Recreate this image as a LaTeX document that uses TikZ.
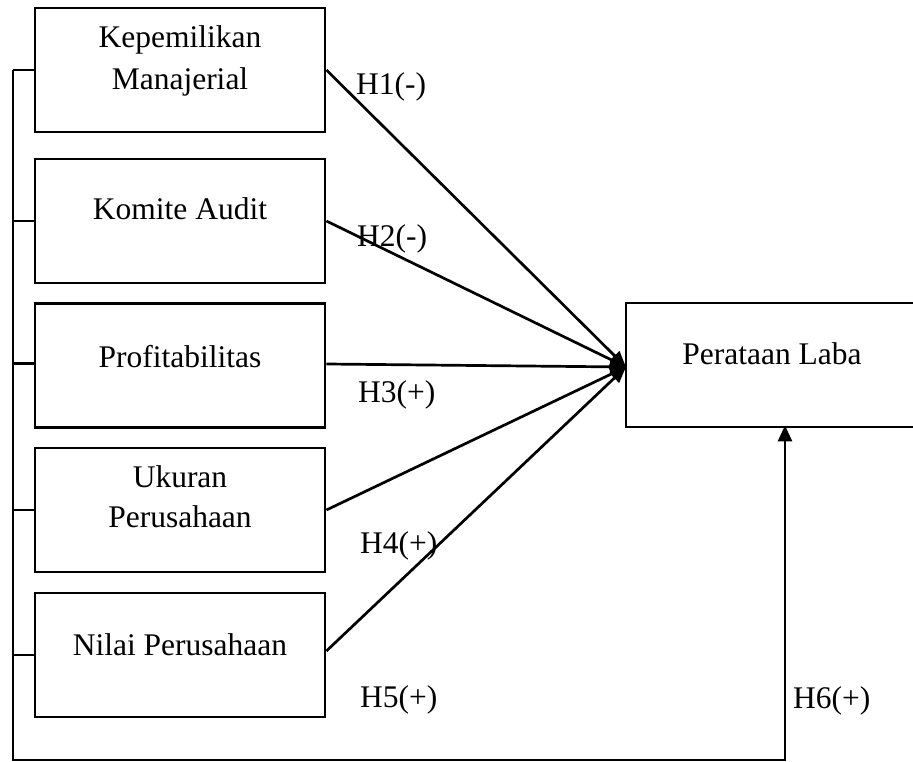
\documentclass[tikz,border=0pt]{standalone}
\usepackage{fontspec}
\setmainfont{Liberation Serif}
\usetikzlibrary{arrows.meta}
\begin{document}
\begin{tikzpicture}[x=1pt,y=-1pt,
  box/.style={draw,line width=2.8pt,minimum width=290pt,minimum height=124pt,inner sep=0pt},
  txt/.style={font=\fontsize{31.5}{42}\selectfont,inner sep=0pt,anchor=base,align=center},
  hlab/.style={font=\fontsize{31.5}{42}\selectfont,inner sep=0pt,anchor=base west},
  conn/.style={line width=2.7pt,-{Triangle[length=16pt,width=13pt]}},
  plain/.style={line width=2.7pt}]
\clip (0,0) rectangle (913,762);
\fill[white] (0,0) rectangle (913,762);
% boxes
\node[box] (b1) at (180,70) {};
\node[box] (b2) at (180,221) {};
\node[box] (b3) at (180,365.5) {};
\node[box] (b4) at (180,510) {};
\node[box] (b5) at (180,655) {};
\node[box,minimum width=296pt] (pl) at (774,365) {};
% texts
\node[txt] (t1a) at (180,48) {Kepemilikan};
\node[txt] (t1b) at (180,90) {Manajerial};
\node[txt] (t2) at (180,220) {Komite Audit};
\node[txt] (t3) at (180,367) {Profitabilitas};
\node[txt] (t4a) at (180,487) {Ukuran};
\node[txt] (t4b) at (180,527) {Perusahaan};
\node[txt] (t5) at (180,655) {Nilai Perusahaan};
\node[txt] (tp) at (772,364) {Perataan Laba};
% convergence point
\coordinate (tip) at (626,367);
\draw[conn] (b1.east) -- (tip);
\draw[conn] (b2.east) -- (tip);
\draw[conn] ([yshift=1.5pt]b3.east) -- (tip);
\draw[conn] (b4.east) -- (tip);
\draw[conn] ([yshift=4pt]b5.east) -- (tip);
% labels
\node[hlab] (h1) at (356,95) {H1(-)};
\node[hlab] (h2) at (357,247) {H2(-)};
\node[hlab] (h3) at (358,402) {H3(+)};
\node[hlab] (h4) at (360,553) {H4(+)};
\node[hlab] (h5) at (360,707) {H5(+)};
\node[hlab] (h6) at (793,708) {H6(+)};
% bracket
\coordinate (top) at (13,70);
\coordinate (bot) at (13,760);
\coordinate (corner) at (785,760);
\draw[plain] (b1.west) -- (top);
\draw[plain] (b2.west) -- (b2.west -| top);
\draw[plain] ([yshift=2pt]b3.west) -- ([yshift=2pt]b3.west -| top);
\draw[plain] (b4.west) -- (b4.west -| top);
\draw[plain] (b5.west) -- (b5.west -| top);
\draw[line width=2.7pt,-{Triangle[length=16pt,width=14pt]}] (top) -- (bot) -- (corner) -- ([yshift=3pt]corner |- pl.south);
\end{tikzpicture}
\end{document}
